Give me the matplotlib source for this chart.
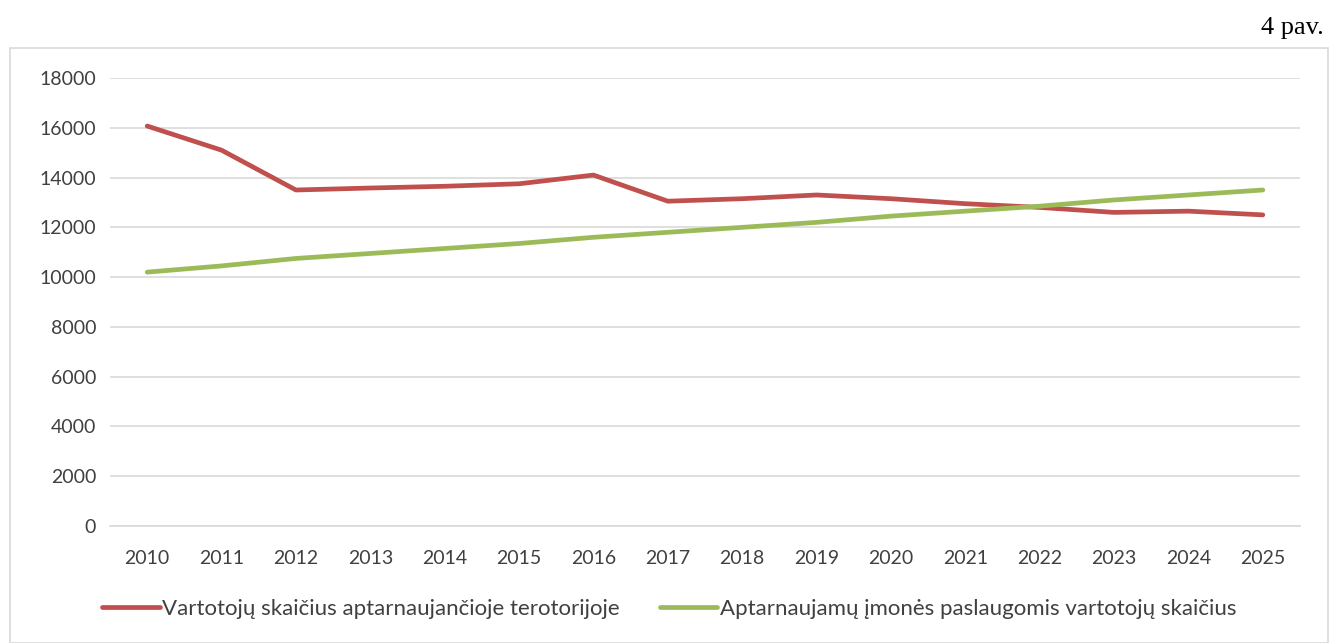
import matplotlib
matplotlib.use("Agg")
import matplotlib.pyplot as plt
from matplotlib.patches import Rectangle

years = [2010, 2011, 2012, 2013, 2014, 2015, 2016, 2017, 2018, 2019, 2020, 2021, 2022, 2023, 2024, 2025]
red_values = [16070, 15100, 13500, 13580, 13650, 13750, 14100, 13050, 13150, 13300, 13150, 12950, 12800, 12600, 12650, 12500]
green_values = [10200, 10450, 10750, 10950, 11150, 11350, 11600, 11800, 12000, 12200, 12450, 12650, 12850, 13100, 13300, 13500]
red_label = "Vartotojų skaičius aptarnaujančioje terotorijoje"
green_label = "Aptarnaujamų įmonės paslaugomis vartotojų skaičius"
yticks = list(range(0, 18001, 2000))

plt.rcParams['font.family'] = ['Lato', 'DejaVu Sans']

W, H = 1338, 643
fig = plt.figure(figsize=(W / 100, H / 100), dpi=100)
fig.patches.append(Rectangle((10 / W, 0), 1318 / W, 1 - 48 / H, transform=fig.transFigure,
                             fill=False, edgecolor='#D9D9D9', linewidth=1.2))

ax = fig.add_axes([110 / W, 1 - 526 / H, 1190 / W, 448 / H])
x = list(range(len(years)))
ax.plot(x, red_values, color='#C0504D', lw=3.4, solid_capstyle='round', label=red_label)
ax.plot(x, green_values, color='#9BBB59', lw=3.4, solid_capstyle='round', label=green_label)

ax.set_xlim(-0.5, len(years) - 0.5)
ax.set_ylim(0, 18000)
ax.set_yticks(yticks)
ax.set_yticklabels([str(v) for v in yticks])
ax.set_xticks(x)
ax.set_xticklabels([str(y) for y in years])
ax.tick_params(axis='both', length=0, labelsize=14, colors='#404040')
ax.tick_params(axis='x', pad=17)
ax.tick_params(axis='y', pad=10)
ax.grid(axis='y', color='#D9D9D9', lw=1.2)
ax.set_axisbelow(True)
for s in ['top', 'right', 'left']:
    ax.spines[s].set_visible(False)
ax.spines['bottom'].set_color('#D9D9D9')
ax.spines['bottom'].set_linewidth(1.2)

fig.legend(loc='center', bbox_to_anchor=(0.5, 1 - 609 / H), ncol=2, frameon=False,
           fontsize=16, handlelength=2.6, columnspacing=1.8, handletextpad=0.1,
           labelcolor='#404040')

fig.text(1324 / W, 1 - 28 / H, "4 pav.", ha='right', va='center', fontsize=19,
         family=['Liberation Serif'])

fig.savefig("out.png", dpi=100)
